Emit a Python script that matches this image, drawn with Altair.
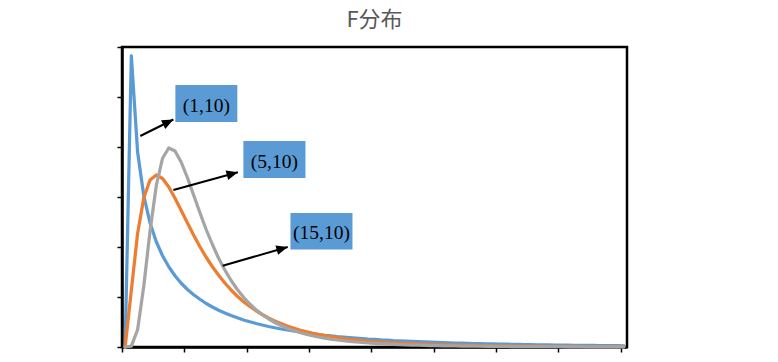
import math
import altair as alt
import pandas as pd

# ---- data ----
x_values = [0.0, 0.1, 0.2, 0.3, 0.4, 0.5, 0.6, 0.7, 0.8, 0.9,
            1.0, 1.1, 1.2, 1.3, 1.4, 1.5, 1.6, 1.7, 1.8, 1.9,
            2.0, 2.1, 2.2, 2.3, 2.4, 2.5, 2.6, 2.7, 2.8, 2.9,
            3.0, 3.1, 3.2, 3.3, 3.4, 3.5, 3.6, 3.7, 3.8, 3.9,
            4.0, 4.1, 4.2, 4.3, 4.4, 4.5, 4.6, 4.7, 4.8, 4.9,
            5.0, 5.1, 5.2, 5.3, 5.4, 5.5, 5.6, 5.7, 5.8, 5.9,
            6.0, 6.1, 6.2, 6.3, 6.4, 6.5, 6.6, 6.7, 6.8, 6.9,
            7.0, 7.1, 7.2, 7.3, 7.4, 7.5, 7.6, 7.7, 7.8, 7.9,
            8.0]

f_1_10 = [0.0, 1.165, 0.780, 0.604, 0.496, 0.421, 0.365, 0.321, 0.285, 0.255,
          0.230, 0.209, 0.191, 0.174, 0.160, 0.147, 0.136, 0.126, 0.117, 0.108,
          0.101, 0.094, 0.088, 0.082, 0.077, 0.072, 0.068, 0.064, 0.060, 0.056,
          0.053, 0.050, 0.047, 0.045, 0.042, 0.040, 0.038, 0.036, 0.034, 0.032,
          0.031, 0.029, 0.028, 0.026, 0.025, 0.024, 0.023, 0.022, 0.021, 0.020,
          0.019, 0.018, 0.017, 0.016, 0.016, 0.015, 0.014, 0.014, 0.013, 0.013,
          0.012, 0.012, 0.011, 0.011, 0.010, 0.010, 0.009, 0.009, 0.009, 0.008,
          0.008, 0.008, 0.007, 0.007, 0.007, 0.007, 0.006, 0.006, 0.006, 0.006,
          0.005]

f_5_10 = [0.0, 0.227, 0.454, 0.597, 0.668, 0.688, 0.674, 0.640, 0.595, 0.546,
          0.496, 0.447, 0.401, 0.359, 0.321, 0.287, 0.256, 0.228, 0.203, 0.181,
          0.162, 0.145, 0.130, 0.116, 0.104, 0.094, 0.084, 0.076, 0.068, 0.062,
          0.056, 0.051, 0.046, 0.042, 0.038, 0.034, 0.031, 0.029, 0.026, 0.024,
          0.022, 0.020, 0.0185, 0.017, 0.0156, 0.0143, 0.0132, 0.0122, 0.0113, 0.0104,
          0.0096, 0.0089, 0.0083, 0.0077, 0.0072, 0.0067, 0.0062, 0.0058, 0.0054, 0.0050,
          0.0047, 0.0044, 0.0041, 0.0038, 0.0036, 0.0034, 0.0031, 0.0029, 0.0028, 0.0026,
          0.0024, 0.0023, 0.0022, 0.0020, 0.0019, 0.0018, 0.0017, 0.0016, 0.0015, 0.0014,
          0.0013]

f_15_10 = [0.0, 0.0035, 0.069, 0.245, 0.464, 0.646, 0.755, 0.796, 0.784, 0.739,
           0.677, 0.607, 0.537, 0.470, 0.410, 0.355, 0.308, 0.266, 0.230, 0.199,
           0.172, 0.149, 0.129, 0.113, 0.098, 0.086, 0.075, 0.066, 0.058, 0.051,
           0.045, 0.040, 0.035, 0.031, 0.028, 0.025, 0.022, 0.020, 0.018, 0.016,
           0.0143, 0.0129, 0.0116, 0.0105, 0.0095, 0.0086, 0.0078, 0.0071, 0.0065, 0.0059,
           0.0054, 0.0049, 0.0045, 0.0042, 0.0038, 0.0035, 0.0032, 0.0030, 0.0027, 0.0025,
           0.0023, 0.0021, 0.0020, 0.0018, 0.0017, 0.0016, 0.0015, 0.0014, 0.0013, 0.0012,
           0.0011, 0.0010, 0.00095, 0.0009, 0.0008, 0.00075, 0.0007, 0.00065, 0.0006, 0.0006,
           0.00056]

series_names = ["(1,10)", "(5,10)", "(15,10)"]
series_colors = ["#5B9BD5", "#ED7D31", "#A5A5A5"]

# Excel-style category axis: points sit between tick marks
x_domain = [-0.05, 8.05]
x_ticks = [-0.05, 0.95, 1.95, 2.95, 3.95, 4.95, 5.95, 6.95, 7.95]
y_domain = [0, 1.2]
y_ticks = [0, 0.2, 0.4, 0.6, 0.8, 1.0, 1.2]

# annotation callouts (data units)
label_text = ["(1,10)", "(5,10)", "(15,10)"]
box_x0 = [0.806, 1.897, 2.652]
box_x1 = [1.800, 2.893, 3.647]
box_y0 = [0.900, 0.676, 0.390]
box_y1 = [1.048, 0.824, 0.536]
arrow_x0 = [0.244, 0.774, 1.565]
arrow_y0 = [0.844, 0.628, 0.325]
arrow_x1 = [0.774, 1.809, 2.608]
arrow_y1 = [0.910, 0.699, 0.400]

W, H = 505, 300
sx = W / (x_domain[1] - x_domain[0])
sy = H / (y_domain[1] - y_domain[0])

ann = pd.DataFrame({
    "label": label_text,
    "bx0": box_x0, "bx1": box_x1, "by0": box_y0, "by1": box_y1,
    "ax0": arrow_x0, "ay0": arrow_y0, "ax1": arrow_x1, "ay1": arrow_y1,
})
ann["tx"] = (ann["bx0"] + ann["bx1"]) / 2
ann["ty"] = (ann["by0"] + ann["by1"]) / 2
ann["angle"] = [
    (math.degrees(math.atan2((x1 - x0) * sx, (y1 - y0) * sy)) + 360) % 360
    for x0, y0, x1, y1 in zip(arrow_x0, arrow_y0, arrow_x1, arrow_y1)
]

x_scale = alt.Scale(domain=x_domain, nice=False, zero=False)
y_scale = alt.Scale(domain=y_domain, nice=False, zero=False)
x_axis = alt.Axis(values=x_ticks, labels=False, grid=False, title=None,
                  ticks=True, tickSize=5, tickColor="black", tickWidth=1.5,
                  domainColor="black", domainWidth=2.5)
y_axis = alt.Axis(values=y_ticks, labels=False, grid=False, title=None,
                  ticks=True, tickSize=5, tickColor="black", tickWidth=1.5,
                  domainColor="black", domainWidth=2.5)


def X(field):
    return alt.X(field, type="quantitative", scale=x_scale, axis=x_axis)


def Y(field):
    return alt.Y(field, type="quantitative", scale=y_scale, axis=y_axis)


layers = []
for vals, col in zip([f_1_10, f_5_10, f_15_10], series_colors):
    df = pd.DataFrame({"x": x_values, "y": vals})
    layers.append(
        alt.Chart(df).mark_line(color=col, strokeWidth=3.25, strokeCap="round",
                                strokeJoin="round")
        .encode(x=X("x"), y=Y("y"))
    )

base = alt.Chart(ann)
boxes = base.mark_rect(color="#5B9BD5").encode(
    x=X("bx0"), x2="bx1", y=Y("by0"), y2="by1")
texts = base.mark_text(font="Liberation Serif", fontSize=19.5, color="black",
                       baseline="middle", align="center", dy=2).encode(
    x=X("tx"), y=Y("ty"), text="label:N")
shafts = base.mark_rule(color="black", strokeWidth=2).encode(
    x=X("ax0"), y=Y("ay0"), x2="ax1", y2="ay1")
heads = base.mark_point(shape="M0,0L0.85,2L-0.85,2Z", filled=True, color="black",
                        size=130, opacity=1, strokeWidth=0).encode(
    x=X("ax1"), y=Y("ay1"),
    angle=alt.Angle("angle:Q", scale=None))

chart = alt.layer(*layers, boxes, texts, shafts, heads).properties(
    width=W, height=H,
    title=alt.Title("F分布", fontSize=22, color="#595959", font="Noto Sans CJK SC",
                    fontWeight="normal", anchor="middle", offset=14),
    autosize=alt.AutoSizeParams(type="none"),
    padding={"left": 114, "top": 39, "right": 140, "bottom": 10},
    background="white",
).configure_view(stroke="black", strokeWidth=2.5)

chart.save("out.html", embed_options={"renderer": "svg", "actions": False})
